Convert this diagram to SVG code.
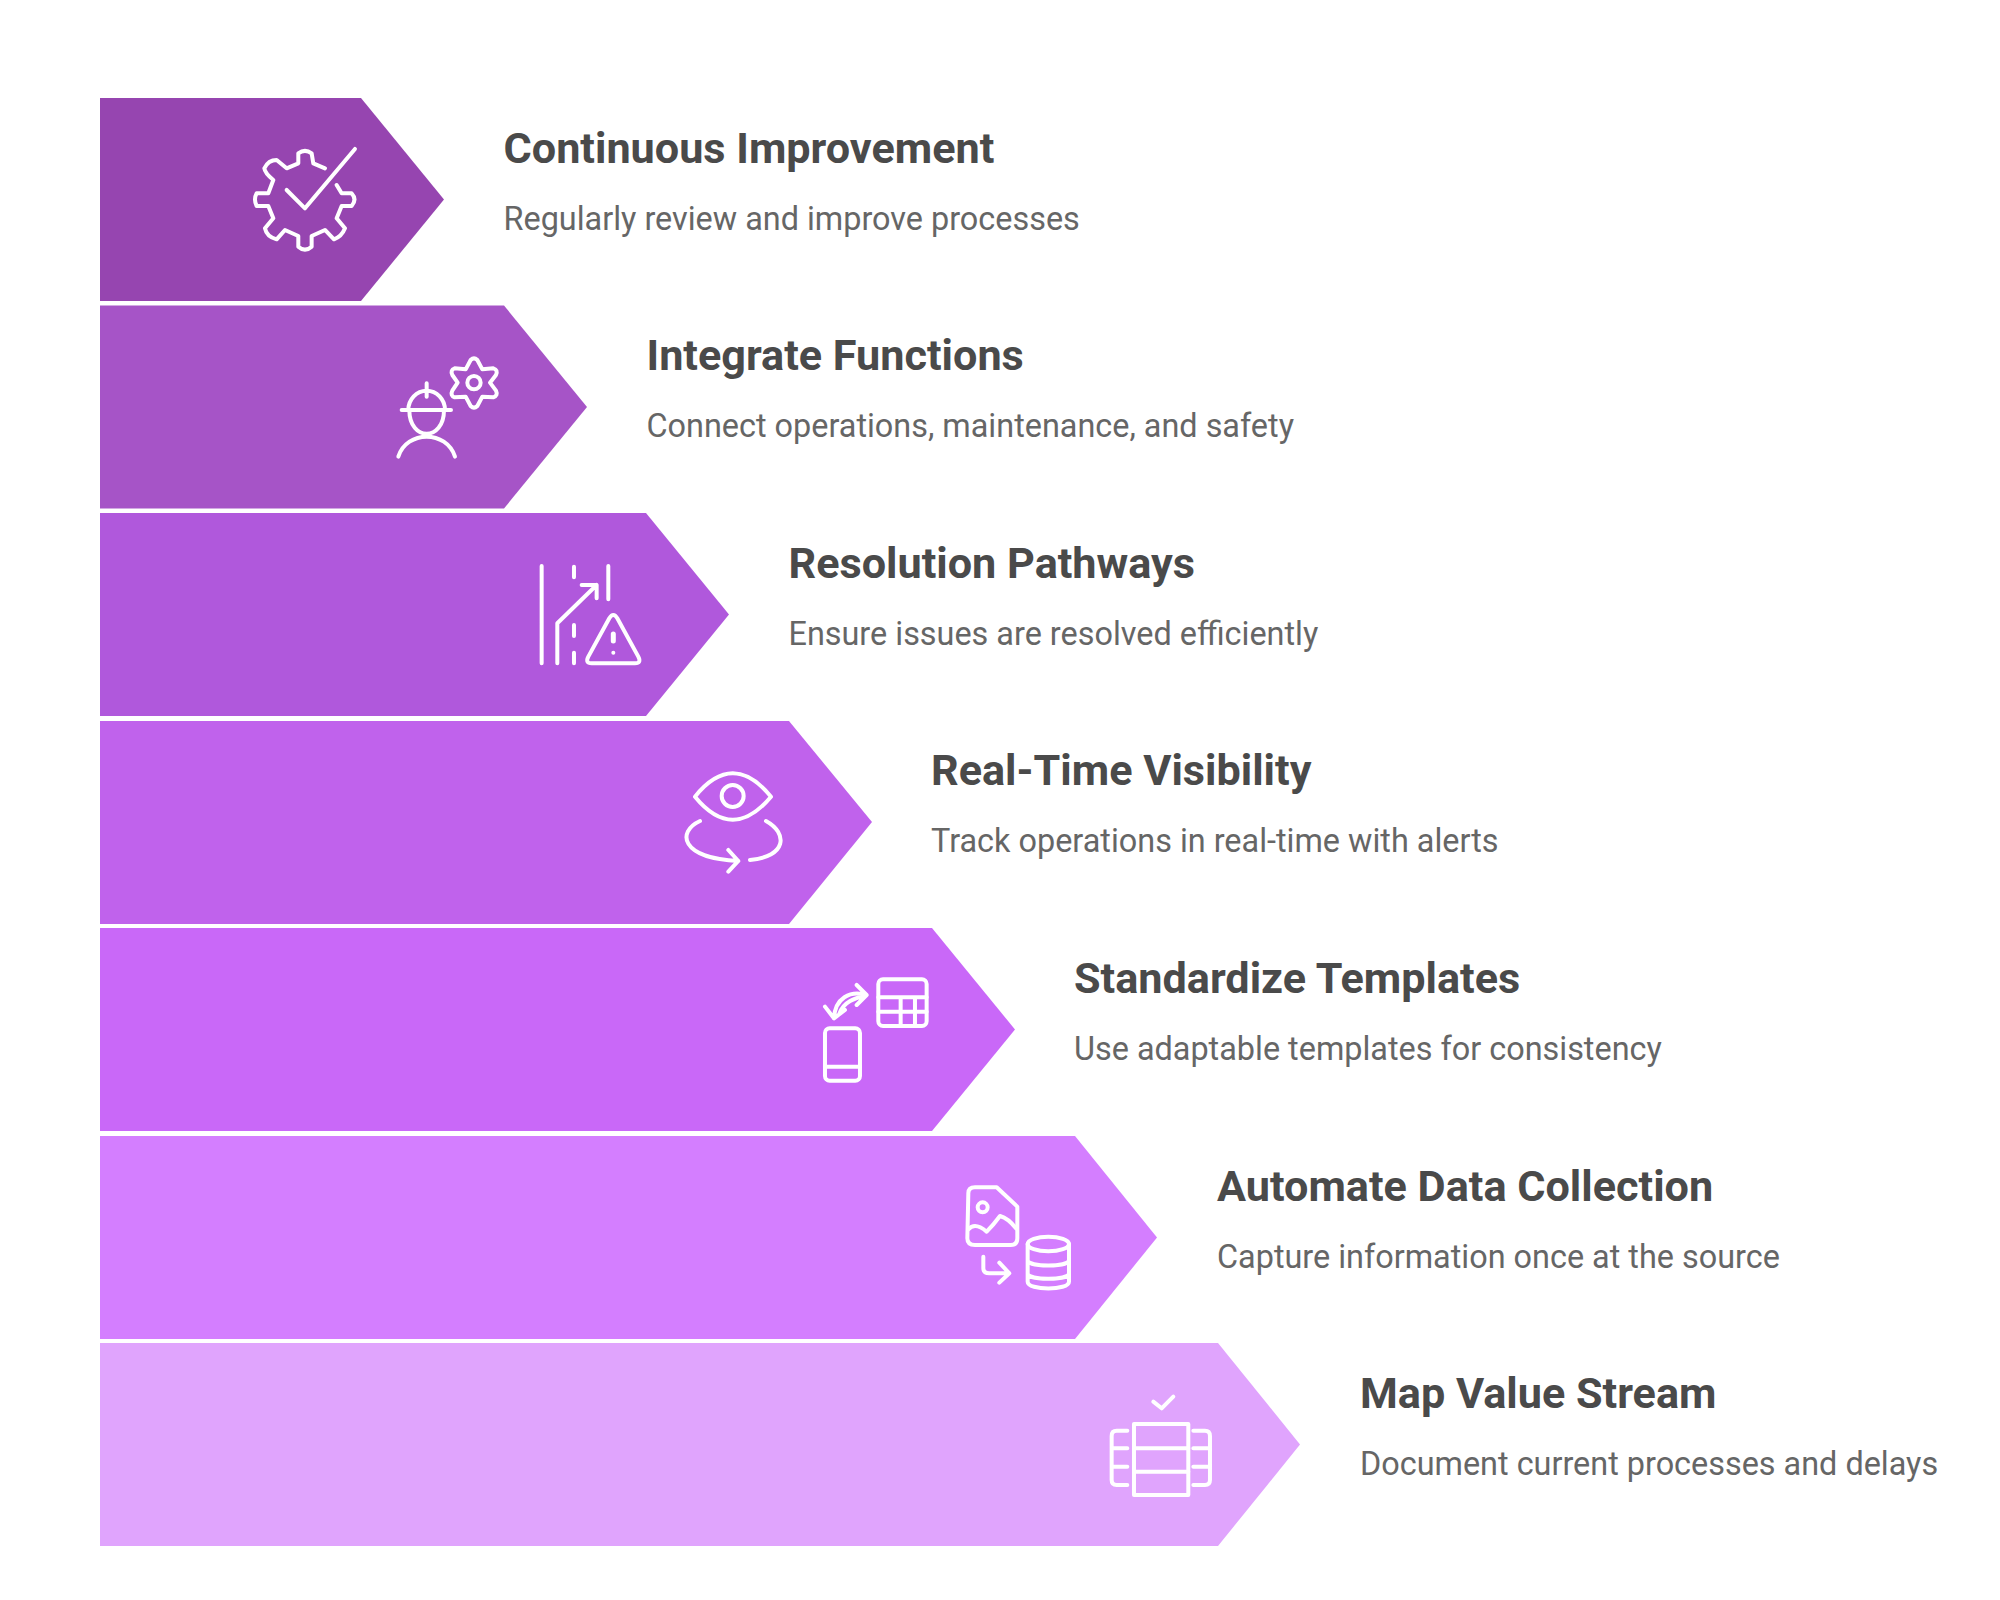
<svg xmlns="http://www.w3.org/2000/svg" width="2000" height="1600" viewBox="0 0 2000 1600">
<style>
.t{font-family:Roboto,"Liberation Sans",sans-serif;font-weight:700;font-size:43.200px;fill:#4a4a4a}
.s{font-family:Roboto,"Liberation Sans",sans-serif;font-weight:400;font-size:32.400px;fill:#666666}
.i{fill:none;stroke:#fff;stroke-width:12;stroke-linecap:round;stroke-linejoin:round}
</style>
<rect width="2000" height="1600" fill="#ffffff"/>
<g id="continuous-improvement">
<path d="M100 98H361L444 199.500L361 301H100Z" fill="#9645B0"/>
<g class="i" transform="translate(80 80) scale(.3333)">
<path d="M735 265L700 250L695 220Q675 205 655 220L655 250L620 265L590 240Q565 240 553 265Q555 280 580 300L565 340L530 340Q520 358 530 378L565 378L580 415L555 445Q560 470 590 478L615 450L655 468L655 500Q675 518 695 500L695 468L735 450L762 478Q785 470 795 445L770 415L785 378L815 378Q832 358 815 340L785 340L770 315"/>
<path d="M620 330L675 385L825 207"/>
</g>
<text class="t" x="503.500" y="162.500">Continuous Improvement</text>
<text class="s" x="503.500" y="229.500">Regularly review and improve processes</text>
</g>
<g id="integrate-functions">
<path d="M100 305.500H504L587 407L504 508.500H100Z" fill="#A654C7"/>
<g class="i" transform="translate(370 340) scale(.3333)">
<path d="M95 210H243M115 210A55 58 0 0 1 225 210M118 210C118 305 222 305 222 210M170 130V170M85 350C110 270 230 270 255 350"/>
<path d="M287 88L302 60Q312 50 322 60L337 88L370 85Q385 90 378 105L360 128L378 152Q385 167 370 172L337 170L322 198Q312 208 302 198L287 170L254 172Q240 167 247 152L263 128L247 105Q240 90 254 85Z"/>
<circle cx="312" cy="128" r="20"/>
</g>
<text class="t" x="646.500" y="370">Integrate Functions</text>
<text class="s" x="646.500" y="437">Connect operations, maintenance, and safety</text>
</g>
<g id="resolution-pathways">
<path d="M100 513H646L729 614.500L646 716H100Z" fill="#B058DC"/>
<g class="i" transform="translate(370 340) scale(.3333)">
<path d="M515 678V970M715 678V778M612 680V712M612 855V888M612 938V970M562 970V850L680 735M635 735H680V775"/>
<path d="M718 835Q730 815 742 835L805 950Q815 970 795 970H665Q645 970 655 950Z"/>
<path d="M730 882V903" stroke-width="15"/>
<circle cx="730" cy="938" r="6" fill="#fff" stroke="none"/>
</g>
<text class="t" x="788.500" y="577.700">Resolution Pathways</text>
<text class="s" x="788.500" y="644.700">Ensure issues are resolved efficiently</text>
</g>
<g id="real-time-visibility">
<path d="M100 721H789L872 822L789 924H100Z" fill="#C062EC"/>
<g class="i" transform="translate(660 750) scale(.3333)">
<path d="M105 140Q218 0 333 140Q218 278 105 140Z"/>
<circle cx="218" cy="138" r="33"/>
<path d="M120 213C50 245 60 325 235 333M205 300L235 333L205 365M318 213C385 250 380 320 270 330"/>
</g>
<text class="t" x="931" y="785.300">Real-Time Visibility</text>
<text class="s" x="931" y="852.300">Track operations in real-time with alerts</text>
</g>
<g id="standardize-templates">
<path d="M100 928H932L1015 1029.500L932 1131H100Z" fill="#C968F8"/>
<g class="i" transform="translate(660 750) scale(.3333)">
<rect x="655" y="688" width="145" height="140" rx="14"/>
<path d="M655 742H800M655 785H800M722 742V828M765 742V828"/>
<path d="M590 705L620 735L590 765M620 735C570 720 525 745 522 805M620 735C585 745 550 755 538 792M495 770L522 805L555 780"/>
<rect x="495" y="835" width="105" height="157" rx="14"/>
<path d="M495 950H600"/>
</g>
<text class="t" x="1074" y="993">Standardize Templates</text>
<text class="s" x="1074" y="1060">Use adaptable templates for consistency</text>
</g>
<g id="automate-data-collection">
<path d="M100 1136H1075L1157 1237.500L1075 1339H100Z" fill="#D47EFF"/>
<g class="i" transform="translate(930 1140) scale(.3333)">
<path d="M115 160Q115 142 135 142H200L262 200V295Q262 315 242 315H135Q112 315 112 295Z"/>
<circle cx="158" cy="202" r="15"/>
<path d="M115 268Q135 245 170 275Q190 255 210 228Q235 235 258 265"/>
<path d="M160 350V385Q160 400 178 400H238M208 368L238 400L208 428"/>
<ellipse cx="355" cy="312" rx="62" ry="22"/>
<path d="M293 312V425C293 452 417 452 417 425V312M293 360C293 382 417 382 417 360M293 400C293 422 417 422 417 400"/>
</g>
<text class="t" x="1217" y="1200.500">Automate Data Collection</text>
<text class="s" x="1217" y="1267.500">Capture information once at the source</text>
</g>
<g id="map-value-stream">
<path d="M100 1343H1218L1300 1444.500L1218 1546H100Z" fill="#E0A4FD"/>
<g class="i" transform="translate(930 1140) scale(.3333)">
<path d="M670 785L695 805L730 770"/>
<rect x="612" y="852" width="163" height="213"/>
<path d="M612 925H775M612 995H775"/>
<path d="M592 872H560Q545 872 545 888V1020Q545 1035 560 1035H592M545 925H592M545 980H592"/>
<path d="M790 872H825Q840 872 840 888V1020Q840 1035 825 1035H790M790 925H840M790 980H840"/>
</g>
<text class="t" x="1360" y="1408">Map Value Stream</text>
<text class="s" x="1360" y="1475">Document current processes and delays</text>
</g>
</svg>
